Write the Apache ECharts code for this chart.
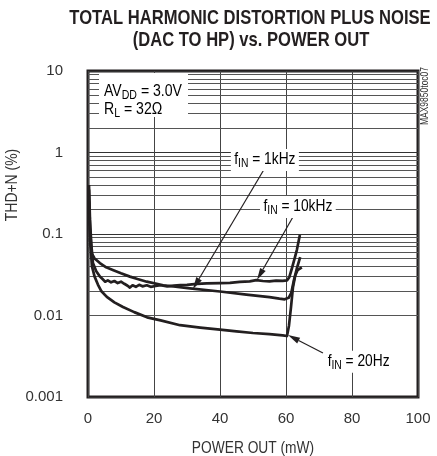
<!DOCTYPE html>
<html><head><meta charset="utf-8">
<script src="https://cdn.jsdelivr.net/npm/echarts@6/dist/echarts.min.js"></script>
<style>html,body{margin:0;padding:0;background:#fff}#c{width:437px;height:456px}</style>
</head><body><div id="c"></div>
<script>
// ---- data ----
const xTicks = [0, 20, 40, 60, 80, 100];
const yTickValues = [0.001, 0.01, 0.1, 1, 10];
const yTickLabels = ['0.001', '0.01', '0.1', '1', '10'];

const p20Hz   = [0.3, 0.6, 1.2, 2, 3, 4, 5.7, 8, 10.6, 14, 17.9, 22, 27.9, 34, 40, 45, 50, 55, 59, 60.3, 60.9, 61.5, 62.1, 62.8, 63.5, 64.8];
const thd20Hz = [0.25, 0.085, 0.04, 0.03, 0.024, 0.02, 0.0169, 0.0145, 0.0127, 0.011, 0.0095, 0.0087, 0.0076, 0.0071, 0.0067, 0.0064, 0.0061, 0.0059, 0.0057, 0.0056, 0.0075, 0.0125, 0.022, 0.031, 0.036, 0.039];

const p1kHz   = [0.3, 0.6, 1.1, 2, 3.6, 5.5, 7.7, 10, 12.7, 15, 17.8, 22.8, 30.9, 40, 48, 55, 58, 59.6, 60.8, 61.6, 62.3, 63.3, 64.3];
const thd1kHz = [0.35, 0.12, 0.058, 0.05, 0.044, 0.039, 0.036, 0.033, 0.030, 0.028, 0.026, 0.0235, 0.0215, 0.0197, 0.018, 0.0168, 0.0161, 0.0158, 0.0165, 0.019, 0.026, 0.038, 0.052];

const p10kHz   = [0.3, 0.6, 1, 1.5, 2.5, 3.6, 4.4, 5.2, 6, 7, 8, 9, 10, 11, 12, 12.7, 13.5, 14.5, 15.5, 16.5, 17.8, 19, 20.5, 22, 24, 26, 28, 30, 33, 36, 40, 43, 46, 49, 51, 53, 55, 57, 59, 60.3, 61, 61.8, 62.6, 63.3, 64.2];
const thd10kHz = [0.4, 0.15, 0.075, 0.044, 0.035, 0.030, 0.028, 0.026, 0.027, 0.0255, 0.0265, 0.025, 0.026, 0.0245, 0.0232, 0.022, 0.0235, 0.0225, 0.0238, 0.0228, 0.0235, 0.0225, 0.023, 0.0235, 0.0228, 0.0232, 0.0236, 0.0238, 0.0245, 0.0248, 0.025, 0.0252, 0.0258, 0.0262, 0.0272, 0.0265, 0.0262, 0.0268, 0.0266, 0.027, 0.0295, 0.038, 0.05, 0.064, 0.097];

// annotation anchors (data coordinates)
const label1k  = [53.6, 0.81];
const arrow1k  = [[53.6, 0.645], [31.8, 0.0211]];
const label10k = [63.6, 0.214];
const arrow10k = [[62.1, 0.162], [51.2, 0.0273]];
const label20  = [82, 0.0027];
const arrow20  = [[71.2, 0.00347], [60.6, 0.00575]];

// ---- build ----
const FONT = "'Liberation Sans', Arial, sans-serif";
const INK = '#231f20';
const zip = (xs, ys) => xs.map((x, i) => [x, ys[i]]);

const minorGrid = [];
[0.001, 0.01, 0.1, 1].forEach(d => { for (let k = 2; k <= 9; k++) minorGrid.push({ yAxis: +(d * k).toPrecision(3) }); });

const curve = (name, xs, ys) => ({
  name, type: 'line', data: zip(xs, ys), showSymbol: false, z: 5,
  lineStyle: { color: INK, width: 2.7, join: 'round' }, silent: true, animation: false
});

const chart = echarts.init(document.getElementById('c'), null, { renderer: 'canvas' });
chart.setOption({
  animation: false,
  backgroundColor: '#fff',
  grid: { left: 88, right: 19, top: 71, bottom: 59, outerBoundsMode: 'none', containLabel: false,
    show: true, borderColor: INK, borderWidth: 3, backgroundColor: 'transparent' },
  xAxis: {
    type: 'value', min: 0, max: 100, interval: 20,
    axisLine: { show: false }, axisTick: { show: false },
    axisLabel: { margin: 14, fontFamily: FONT, fontSize: 15, color: '#333', formatter: v => xTicks.includes(v) ? String(v) : '' },
    splitLine: { show: true, lineStyle: { color: '#444', width: 1 } }
  },
  yAxis: {
    type: 'log', logBase: 10, min: 0.001, max: 10,
    axisLine: { show: false }, axisTick: { show: false },
    axisLabel: {
      margin: 25, fontFamily: FONT, fontSize: 15, color: '#333',
      formatter: v => { const i = Math.round(Math.log10(v)) + 3; return yTickLabels[i] !== undefined ? yTickLabels[i] : ''; }
    },
    splitLine: { show: true, lineStyle: { color: '#333', width: 1 } }
  },
  series: [
    {
      type: 'line', data: [], z: 1, silent: true,
      markLine: { silent: true, symbol: 'none', animation: false, label: { show: false },
        lineStyle: { color: '#555', width: 1, type: 'solid' }, data: minorGrid }
    },
    curve('20Hz', p20Hz, thd20Hz),
    curve('1kHz', p1kHz, thd1kHz),
    curve('10kHz', p10kHz, thd10kHz)
  ]
});

const rich = {
  b: { fontFamily: FONT, fontSize: 16, lineHeight: 20, color: '#222' },
  s: { fontFamily: FONT, fontSize: 12, lineHeight: 12, verticalAlign: 'bottom', color: '#222' }
};
const px = p => chart.convertToPixel({ gridIndex: 0 }, p);
function ann(pos, text) {
  const [x, y] = px(pos);
  return { type: 'text', x, y, z: 50, scaleX: 0.86, style: { text, rich, align: 'center', verticalAlign: 'middle', backgroundColor: '#fff', padding: [1, 4] } };
}
function arrow(a) {
  const [x0, y0] = px(a[0]), [x1, y1] = px(a[1]);
  const dx = x1 - x0, dy = y1 - y0, L = Math.hypot(dx, dy), ux = dx / L, uy = dy / L;
  const hl = 12, hw = 3.2;
  const bx = x1 - ux * hl, by = y1 - uy * hl;
  return [
    { type: 'line', z: 48, shape: { x1: x0, y1: y0, x2: bx, y2: by }, style: { stroke: INK, lineWidth: 1.2 } },
    { type: 'polygon', z: 48, shape: { points: [[x1, y1], [bx - uy * hw, by + ux * hw], [bx + uy * hw, by - ux * hw]] }, style: { fill: INK } }
  ];
}
chart.setOption({
  graphic: [
    { type: 'text', z: 50, x: 250, y: 18, scaleX: 0.79, style: { text: 'TOTAL HARMONIC DISTORTION PLUS NOISE', fontFamily: FONT, fontWeight: 'bold', fontSize: 21, fill: INK, align: 'center', verticalAlign: 'middle' } },
    { type: 'text', z: 50, x: 251, y: 40, scaleX: 0.79, style: { text: '(DAC TO HP) vs. POWER OUT', fontFamily: FONT, fontWeight: 'bold', fontSize: 21, fill: INK, align: 'center', verticalAlign: 'middle' } },
    ...arrow(arrow1k), ...arrow(arrow10k), ...arrow(arrow20),
    ann(label1k, '{b|f}{s|IN}{b| = 1kHz}'),
    ann(label10k, '{b|f}{s|IN}{b| = 10kHz}'),
    ann(label20, '{b|f}{s|IN}{b| = 20Hz}'),
    { type: 'rect', z: 49, shape: { x: 99, y: 73, width: 89, height: 44 }, style: { fill: '#fff' } },
    { type: 'text', z: 50, x: 104, y: 92, scaleX: 0.88, style: { text: '{b|AV}{s|DD}{b| = 3.0V}', rich, align: 'left', verticalAlign: 'middle' } },
    { type: 'text', z: 50, x: 104, y: 110, scaleX: 0.88, style: { text: '{b|R}{s|L}{b| = 32Ω}', rich, align: 'left', verticalAlign: 'middle' } },
    { type: 'text', z: 50, x: 13, y: 185, rotation: Math.PI / 2, scaleX: 0.87,
      style: { text: 'THD+N (%)', fontFamily: FONT, fontSize: 16, fill: '#333', align: 'center', verticalAlign: 'middle' } },
    { type: 'text', z: 50, x: 253, y: 449, scaleX: 0.86,
      style: { text: 'POWER OUT (mW)', fontFamily: FONT, fontSize: 16, fill: '#333', align: 'center', verticalAlign: 'middle' } },
    { type: 'text', z: 50, x: 425, y: 96, rotation: Math.PI / 2, scaleX: 0.85,
      style: { text: 'MAX9850toc07', fontFamily: FONT, fontSize: 10, fill: '#333', align: 'center', verticalAlign: 'middle' } }
  ]
});
</script>
</body></html>
